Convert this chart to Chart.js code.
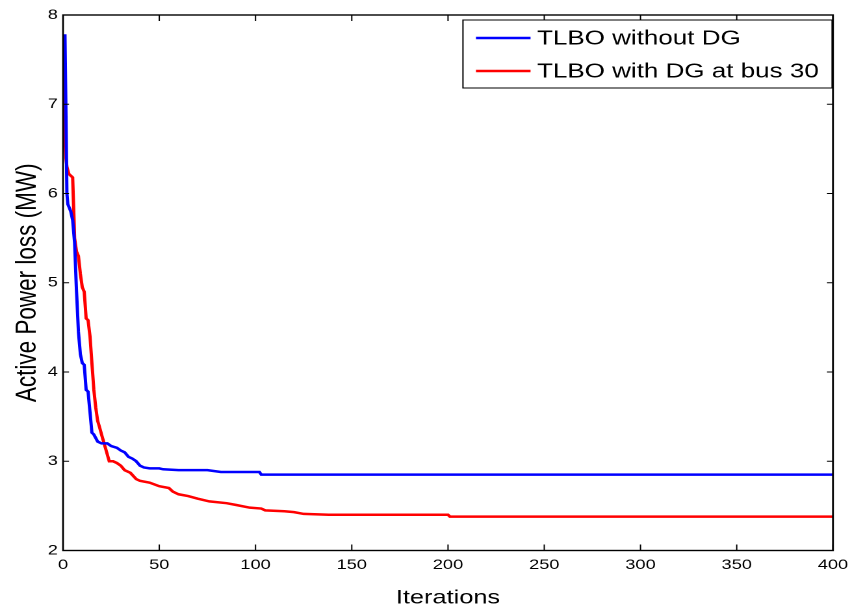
<!DOCTYPE html>
<html>
<head>
<meta charset="utf-8">
<script src="https://cdn.jsdelivr.net/npm/chart.js@4"></script>
<style>
  html, body { margin: 0; padding: 0; background: #fff; overflow: hidden; }
  /* the source figure is stretched ~1.3x sideways, so draw narrow and widen */
  #c { display: block; width: 850px; height: 612px; }
</style>
</head>
<body>
<canvas id="c" width="654" height="612" style="width:850px;height:612px"></canvas>
<script>
// === data ===
const iterBlue = [0, 1, 2, 2.5, 4, 5, 6, 7, 8, 9, 10, 11, 12, 13, 14, 15, 16, 18, 20, 23, 25, 28, 30, 32, 34, 36, 38, 40, 42, 45, 50, 52, 60, 75, 82, 102, 103, 400];
const lossBlue = [7.77, 7.77, 6.0, 5.88, 5.8, 5.7, 5.45, 4.9, 4.45, 4.2, 4.1, 4.08, 3.8, 3.78, 3.55, 3.32, 3.3, 3.22, 3.2, 3.2, 3.17, 3.15, 3.12, 3.1, 3.05, 3.03, 3.0, 2.95, 2.93, 2.92, 2.92, 2.91, 2.9, 2.9, 2.88, 2.88, 2.85, 2.85];

const iterRed = [0, 1, 1.5, 2, 3, 5, 6, 7, 8, 9, 10, 11, 12, 13, 14, 15, 16, 17, 18, 19, 20, 22, 24, 26, 28, 30, 32, 35, 38, 40, 45, 50, 55, 57, 60, 65, 70, 76, 85, 90, 97, 103, 105, 115, 120, 125, 138, 200, 201, 400];
const lossRed = [7.62, 6.6, 6.4, 6.3, 6.22, 6.18, 5.5, 5.35, 5.3, 5.1, 4.95, 4.9, 4.6, 4.58, 4.4, 4.1, 3.8, 3.6, 3.45, 3.38, 3.3, 3.15, 3.0, 3.0, 2.98, 2.95, 2.9, 2.87, 2.8, 2.78, 2.76, 2.72, 2.7, 2.66, 2.63, 2.61, 2.58, 2.55, 2.53, 2.51, 2.48, 2.47, 2.45, 2.44, 2.43, 2.41, 2.4, 2.4, 2.38, 2.38];

const seriesLabels = ["TLBO without DG", "TLBO with DG at bus 30"];
const xTicks = [0, 50, 100, 150, 200, 250, 300, 350, 400];
const yTicks = [2, 3, 4, 5, 6, 7, 8];

const FONT = "'Liberation Sans', Arial, sans-serif";

function pts(xs, ys){ return xs.map((x, i) => ({ x, y: ys[i] })); }

// MATLAB-like frame, inward ticks and boxed legend
const matlabFrame = {
  id: "matlabFrame",
  afterDraw(chart){
    const { ctx, chartArea: a, scales } = chart;
    const sx = scales.x, sy = scales.y;
    ctx.save();
    ctx.strokeStyle = "#000";
    ctx.lineWidth = 1;
    ctx.beginPath();
    xTicks.forEach(v => {
      const p = sx.getPixelForValue(v);
      ctx.moveTo(p, a.bottom); ctx.lineTo(p, a.bottom - 6);
      ctx.moveTo(p, a.top); ctx.lineTo(p, a.top + 6);
    });
    yTicks.forEach(v => {
      const p = sy.getPixelForValue(v);
      ctx.moveTo(a.left, p); ctx.lineTo(a.left + 4.6, p);
      ctx.moveTo(a.right, p); ctx.lineTo(a.right - 4.6, p);
    });
    ctx.stroke();
    ctx.lineWidth = 1.4;
    ctx.strokeRect(a.left, a.top, a.right - a.left, a.bottom - a.top);

    // legend
    const lx = 356.2, ly = 20, lw = 284, lh = 68;
    ctx.fillStyle = "#fff";
    ctx.fillRect(lx, ly, lw, lh);
    ctx.lineWidth = 1;
    ctx.strokeRect(lx, ly, lw, lh);
    ctx.font = "20px " + FONT;
    ctx.textBaseline = "middle";
    chart.data.datasets.forEach((ds, i) => {
      const yy = ly + 18 + i * 33;
      ctx.strokeStyle = ds.borderColor;
      ctx.lineWidth = 2.5;
      ctx.beginPath();
      ctx.moveTo(lx + 10, yy); ctx.lineTo(lx + 52, yy);
      ctx.stroke();
      ctx.fillStyle = "#000";
      ctx.fillText(ds.label, lx + 57, yy + 1);
    });
    ctx.restore();
  }
};

const chart = new Chart(document.getElementById("c"), {
  type: "line",
  data: {
    datasets: [
      { label: seriesLabels[0], data: pts(iterBlue, lossBlue), borderColor: "#0000ff", borderWidth: 2.5, pointRadius: 0, tension: 0, fill: false },
      { label: seriesLabels[1], data: pts(iterRed, lossRed), borderColor: "#ff0000", borderWidth: 2.5, pointRadius: 0, tension: 0, fill: false }
    ]
  },
  options: {
    responsive: false,
    animation: false,
    devicePixelRatio: 2,
    layout: { padding: { left: 0, top: 15, right: 13.1, bottom: 0 } },
    plugins: { legend: { display: false }, tooltip: { enabled: false } },
    scales: {
      x: {
        type: "linear", min: 0, max: 400,
        grid: { display: false, drawTicks: false },
        border: { display: false },
        afterBuildTicks: s => { s.ticks = xTicks.map(v => ({ value: v })); },
        afterFit: s => { s.height = 61.5; s.paddingLeft = 0; s.paddingRight = 0; },
        ticks: { color: "#000", font: { family: FONT, size: 14 }, padding: 6, maxRotation: 0 },
        title: { display: true, text: "Iterations", color: "#000", font: { family: FONT, size: 19.5 }, padding: { top: 0, bottom: 2 } }
      },
      y: {
        type: "linear", min: 2, max: 8,
        grid: { display: false, drawTicks: false },
        border: { display: false },
        afterBuildTicks: s => { s.ticks = yTicks.map(v => ({ value: v })); },
        afterFit: s => { s.width = 48.5; s.paddingTop = 0; s.paddingBottom = 0; },
        ticks: { color: "#000", font: { family: FONT, size: 14 }, padding: 4 },
        title: { display: true, text: "Active Power loss (MW)", color: "#000", font: { family: FONT, size: 22.5 }, padding: { top: 8, bottom: 0 } }
      }
    }
  },
  plugins: [matlabFrame]
});
chart.canvas.style.width = "850px";
chart.canvas.style.height = "612px";
</script>
</body>
</html>
